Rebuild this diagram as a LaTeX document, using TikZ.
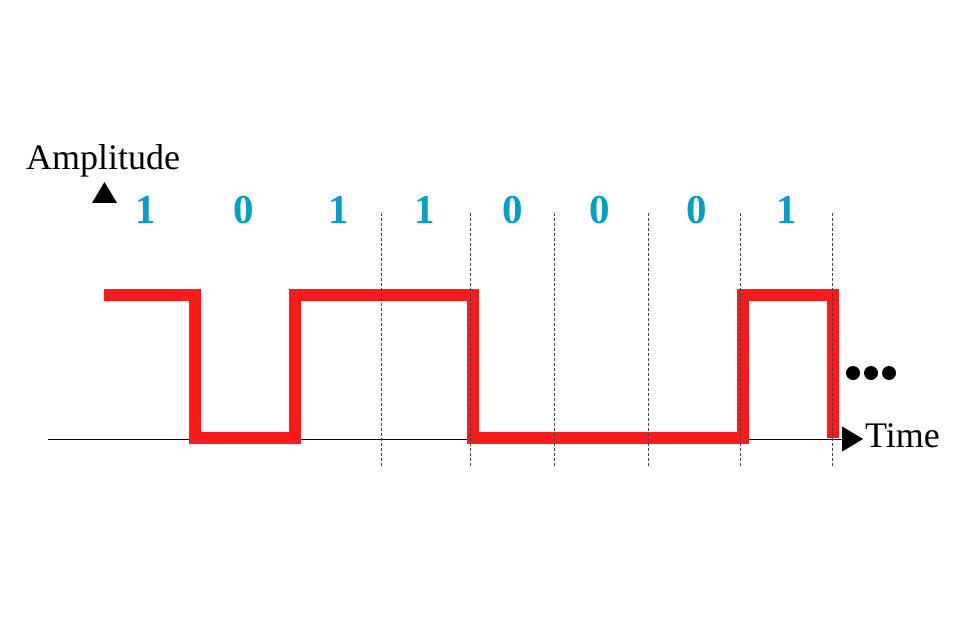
\documentclass[tikz,border=0pt]{standalone}
\usepackage{fontspec}
\setmainfont{Liberation Serif}
\usetikzlibrary{arrows.meta}
\definecolor{sigred}{RGB}{255,25,25}
\definecolor{bitblue}{RGB}{0,160,200}

\begin{document}
\begin{tikzpicture}[x=1pt, y=-1pt,
	      label/.style={font=\fontsize{36}{40}\selectfont, inner sep=0pt, anchor=base west},
	      bit/.style={font=\fontsize{41}{44}\bfseries\selectfont, text=bitblue, inner sep=0pt, anchor=base},
	      slot/.style={densely dashed, line width=0.6pt, black!75},
	      signal/.style={line width=12pt, sigred, line join=miter}]
	    \useasboundingbox (0,0) rectangle (959,639);
	    % axes
	    \node[label] (amp) at (26,170) {Amplitude};
	    \node[label] (time) at (865,447) {Time};
	    \coordinate (t0) at (48,439);
	    \coordinate (t1) at (863,439);
	    \draw[line width=1pt, -{Triangle[length=21pt,width=25pt]}] (t0) -- (t1);
	    \fill (92,203) -- (104.5,182) -- (117,203) -- cycle;
	    % bits
	    \foreach \x/\b [count=\i] in {146/1, 244/0, 339/1, 425/1, 513/0, 600/0, 697/0, 787/1}
	      \node[bit] (bit\i) at (\x,224) {\b};
	    % waveform
	    \draw[signal] (104,295) -- (195,295) -- (195,437.5) -- (295,437.5) -- (295,295)
	      -- (473,295) -- (473,437.5) -- (743,437.5) -- (743,295) -- (833,295) -- (833,438);
	    % bit boundaries
	    \foreach \x in {381, 470, 554, 648, 740, 832}
	      \draw[slot] (\x,213) -- (\x,467);
	    % more to come
	    \foreach \x in {853, 871, 889}
	      \fill (\x,373) circle (7pt);
	    \end{tikzpicture}
\end{document}
